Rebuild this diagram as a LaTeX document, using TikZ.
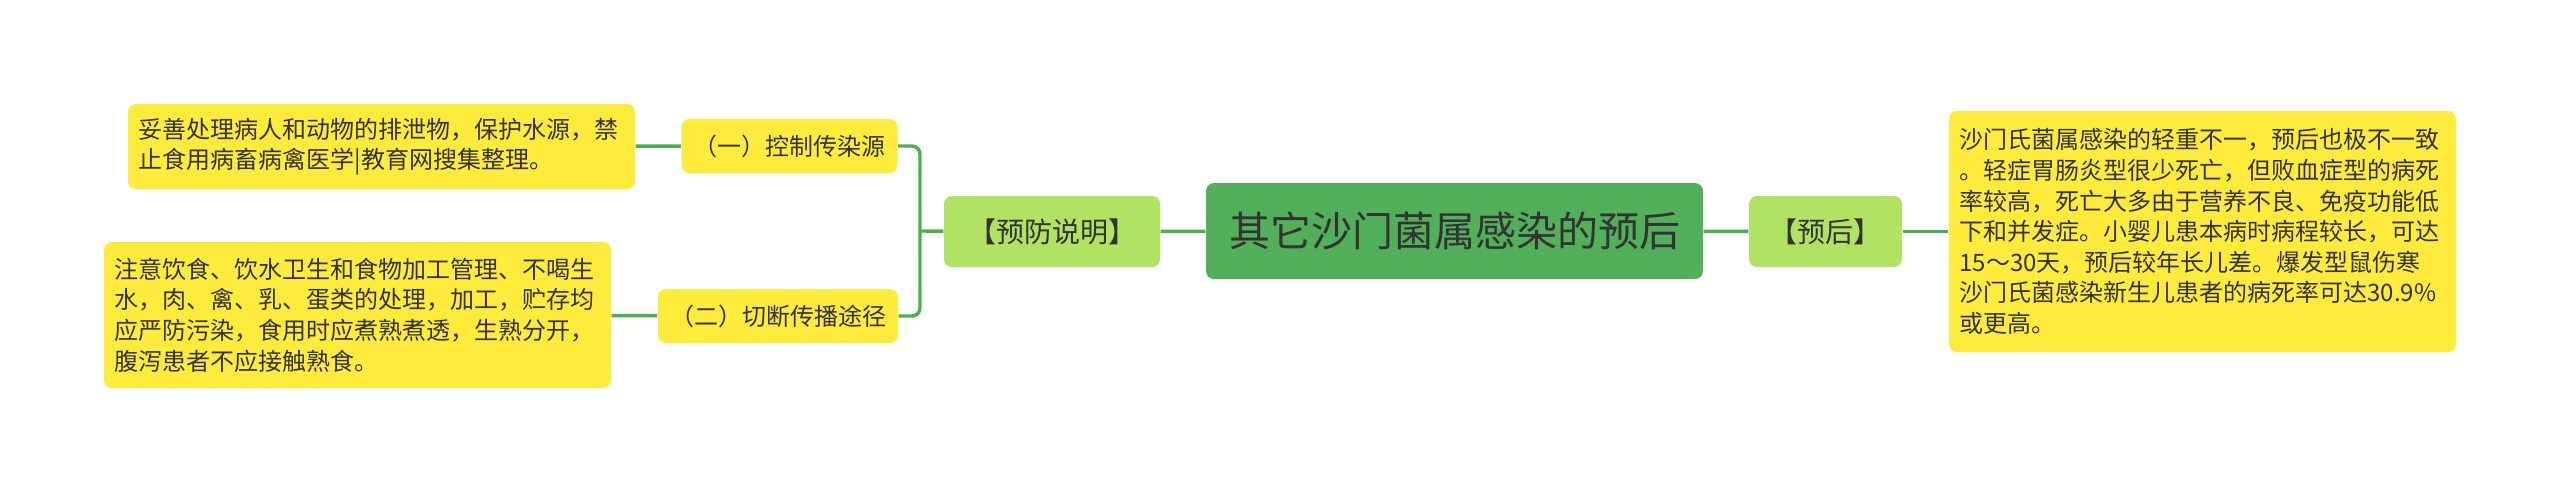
\documentclass[tikz,border=0pt]{standalone}
\usepackage{fontspec}
\setmainfont{Noto Sans CJK SC}
\usetikzlibrary{positioning}

\definecolor{leafyellow}{HTML}{FFEB3B}
\definecolor{subgreen}{HTML}{B1E362}
\definecolor{rootgreen}{HTML}{52B05A}
\definecolor{linkgreen}{HTML}{4CAF50}
\definecolor{inktext}{HTML}{333333}

\tikzset{
  box/.style={rounded corners=2.8pt, inner sep=0pt, text=inktext},
  leaf/.style={box, fill=leafyellow, minimum width=177.45pt, text width=170pt,
    inner xsep=3.7pt, align=left, font=\fontsize{8.4pt}{10.7pt}\selectfont},
  branch/.style={box, fill=leafyellow, minimum height=18.9pt, inner xsep=4.2pt,
    font=\fontsize{8.4pt}{10.7pt}\selectfont},
  topic/.style={box, fill=subgreen, minimum height=24.85pt,
    font=\fontsize{9.8pt}{12pt}\selectfont},
  root/.style={box, fill=rootgreen, minimum width=173.95pt, minimum height=33.6pt,
    font=\fontsize{14.35pt}{17pt}\selectfont},
  link/.style={draw=linkgreen, line width=1.2pt}
}

\begin{document}
\begin{tikzpicture}[x=0.35pt,y=-0.35pt]
  \useasboundingbox[fill=white] (0,0) rectangle (2560,494);

  \node[root] (main) at (1454.5,231) {其它沙门菌属感染的预后};

  % left side
  \node[topic, minimum width=75.6pt] (prev) at (1052,231.5) {【预防说明】};
  \node[branch] (src) at (789.5,146) {（一）控制传染源};
  \node[branch] (route) at (778,316) {（二）切断传播途径};
  \node[leaf, minimum height=29.75pt] (srcnote) at (381.5,146.5)
    {妥善处理病人和动物的排泄物，保护水源，禁\\止食用病畜病禽医学|教育网搜集整理。};
  \node[leaf, minimum height=51.1pt] (routenote) at (357.5,315)
    {注意饮食、饮水卫生和食物加工管理、不喝生\\水，肉、禽、乳、蛋类的处理，加工，贮存均\\应严防污染，食用时应煮熟煮透，生熟分开，\\腹泻患者不应接触熟食。};

  % right side
  \node[topic, minimum width=53.55pt] (prog) at (1825.5,231.5) {【预后】};
  \node[leaf, minimum height=84.35pt] (prognote) at (2202.5,231.5)
    {沙门氏菌属感染的轻重不一，预后也极不一致\\。轻症胃肠炎型很少死亡，但败血症型的病死\\率较高，死亡大多由于营养不良、免疫功能低\\下和并发症。小婴儿患本病时病程较长，可达\\15～30天，预后较年长儿差。爆发型鼠伤寒\\沙门氏菌感染新生儿患者的病死率可达30.9\%\\或更高。};

  \coordinate (fork) at (920,231);

  \draw[link] (main) -- (prev);
  \draw[link] (prev) -- (fork);
  \draw[link, rounded corners=2.8pt] (src.east) -| (fork) |- (route.east);
  \draw[link] (srcnote) -- (src);
  \draw[link] (routenote) -- (route);
  \draw[link] (main) -- (prog);
  \draw[link] (prog) -- (prognote);
\end{tikzpicture}
\end{document}
